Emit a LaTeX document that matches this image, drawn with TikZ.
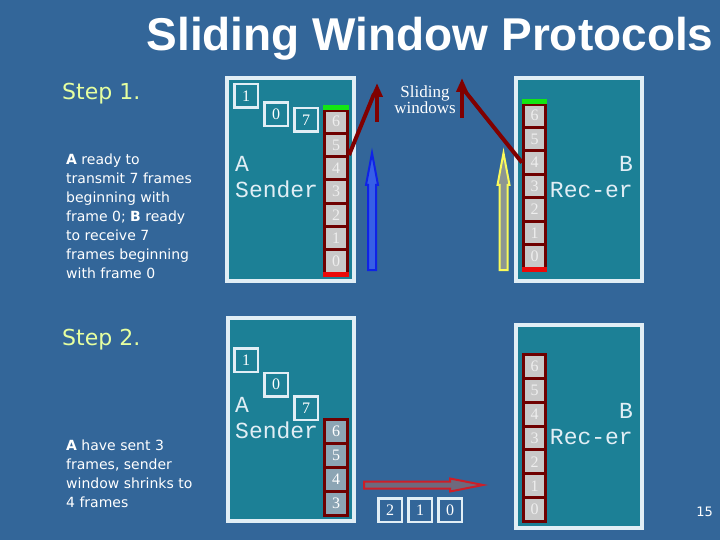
\documentclass[tikz,border=0pt]{standalone}
\usepackage{fontspec}
\setmainfont{Liberation Serif}
\newfontfamily\headfont{Liberation Sans}
\newfontfamily\stepfont{DejaVu Sans}
\newfontfamily\codefont{Liberation Mono}
\usetikzlibrary{arrows.meta}
\definecolor{bgblue}{RGB}{51,102,153}
\definecolor{panelteal}{RGB}{28,128,150}
\definecolor{paneledge}{RGB}{225,238,245}
\definecolor{celledge}{RGB}{110,0,0}
\definecolor{cellgray}{RGB}{200,200,200}
\definecolor{celltext}{RGB}{238,238,238}
\definecolor{cellblue}{RGB}{140,165,180}
\definecolor{winred}{RGB}{128,0,0}
\definecolor{stepyellow}{RGB}{230,255,160}
\definecolor{arrowblue}{RGB}{15,35,230}
\definecolor{arrowbluefill}{RGB}{55,95,230}
\definecolor{arrowyellow}{RGB}{250,250,90}
\definecolor{arrowgray}{RGB}{140,150,145}
\definecolor{arrowred}{RGB}{205,30,40}
\definecolor{arrowredfill}{RGB}{110,105,125}
\definecolor{topgreen}{RGB}{20,230,20}
\definecolor{botred}{RGB}{235,10,10}
\begin{document}
\begin{tikzpicture}[x=1pt, y=-1pt,
  panel/.style={draw=paneledge, fill=panelteal, line width=4pt},
  cell/.style={draw=celledge, line width=3pt, fill=cellgray, text=celltext,
    inner sep=0pt, minimum width=23pt, font=\fontsize{16}{16}\selectfont},
  numbox/.style={draw=paneledge, line width=2.5pt, minimum size=23.5pt,
    inner sep=0pt, text=white, font=\fontsize{16}{16}\selectfont},
  code/.style={text=paneledge, inner sep=0pt, font=\codefont\fontsize{23}{23}\selectfont},
  steplabel/.style={text=stepyellow, inner sep=0pt, anchor=base west,
    font=\stepfont\fontsize{22}{22}\selectfont},
  stepnote/.style={text=white, inner sep=0pt, anchor=north west, align=left,
    font=\stepfont\fontsize{14}{19}\selectfont},
  winline/.style={winred, line width=4pt},
  winarrow/.style={winred, line width=4pt, -{Triangle[width=11pt,length=14pt]}},
  hollow/.style={line width=2pt, line join=miter}]

  \fill[bgblue] (0,0) rectangle (720,540);
  \useasboundingbox (0,0) rectangle (720,540);

  \node[text=white, inner sep=0pt, anchor=base, font=\headfont\bfseries\fontsize{46}{46}\selectfont]
    (title) at (430,51) {Sliding Window Protocols};

  % Step 1
  \node[steplabel] (step1) at (62,100) {Step 1.};
  \node[stepnote] (note1) at (66,153.4) {\textbf{A} ready to\\ transmit 7 frames\\ beginning with\\
    frame 0; \textbf{B} ready\\ to receive 7\\ frames beginning\\ with frame 0};

  \draw[panel] (227,78) rectangle (354,281);
  \draw[panel] (516,78) rectangle (642,281);

  \node[numbox] (sa1) at (246,96) {1};
  \node[numbox] (sa0) at (276,114.5) {0};
  \node[numbox] (sa7) at (306,120) {7};
  \node[code, anchor=base west] (aname) at (235,172) {A};
  \node[code, anchor=base west] (asend) at (235,198) {Sender};

  \foreach \i in {0,...,6}
    \node[cell, minimum height=23.29pt] (s\i) at (336,{261.4-23.29*\i}) {\i};
  \fill[topgreen] (323,105) rectangle (349,110.5);
  \fill[botred] (323,272) rectangle (349,277);

  \node[code, anchor=base east] (bname) at (633,172) {B};
  \node[code, anchor=base east] (brec) at (633,198) {Rec-er};

  \foreach \i in {0,...,6}
    \node[cell, minimum width=22pt, minimum height=23.43pt] (r\i) at (534.5,{256.3-23.43*\i}) {\i};
  \fill[topgreen] (522,99) rectangle (547,104.5);
  \fill[botred] (522,267) rectangle (547,272);

  \node[text=white, inner sep=0pt, anchor=north, align=center, font=\fontsize{17}{16}\selectfont]
    (slide) at (425,86) {Sliding\\ windows};

  \coordinate (wa) at (377,83);
  \coordinate (wa0) at (377,122);
  \coordinate (wa1) at (374,94);
  \draw[winarrow] (wa0) -- (wa);
  \draw[winline] (s4.north east) -- (wa1);
  \coordinate (wb) at (462,78);
  \coordinate (wb0) at (462,118);
  \coordinate (wb1) at (464,90);
  \draw[winarrow] (wb0) -- (wb);
  \draw[winline] (r4.west) -- (wb1);

  \coordinate (blueb) at (372,270);
  \draw[hollow, draw=arrowblue, fill=arrowbluefill] (blueb) ++(-4,0) -- ++(0,-85) -- ++(-2,0)
    -- ++(6,-32) -- ++(6,32) -- ++(-2,0) -- ++(0,85) -- cycle;
  \coordinate (yellowb) at (503.5,270);
  \draw[hollow, draw=arrowyellow, fill=arrowgray] (yellowb) ++(-4,0) -- ++(0,-85) -- ++(-2,0)
    -- ++(6,-32) -- ++(6,32) -- ++(-2,0) -- ++(0,85) -- cycle;

  % Step 2
  \node[steplabel] (step2) at (62,345) {Step 2.};
  \node[stepnote] (note2) at (66,439.4) {\textbf{A} have sent 3\\ frames, sender\\
    window shrinks to\\ 4 frames};

  \draw[panel] (228,318) rectangle (354,521);
  \draw[panel] (516,325) rectangle (642,528);

  \node[numbox] (sb1) at (246,360) {1};
  \node[numbox] (sb0) at (276,384.5) {0};
  \node[numbox] (sb7) at (306,408) {7};
  \node[code, anchor=base west] (aname2) at (235,412) {A};
  \node[code, anchor=base west] (asend2) at (235,438) {Sender};

  \foreach \i in {3,...,6}
    \node[cell, fill=cellblue, text=white, minimum height=24pt] (t\i) at (336,{575.5-24*\i}) {\i};

  \coordinate (redb) at (364,485);
  \draw[hollow, draw=arrowred, fill=arrowredfill] (redb) ++(0,-3.5) -- ++(86,0) -- ++(0,-3)
    -- ++(33,6.5) -- ++(-33,6.5) -- ++(0,-3) -- ++(-86,0) -- cycle;

  \node[numbox] (sent2) at (390,510) {2};
  \node[numbox] (sent1) at (420,510) {1};
  \node[numbox] (sent0) at (450,510) {0};

  \foreach \i in {0,...,6}
    \node[cell, minimum width=22pt, minimum height=23.86pt] (q\i) at (534.5,{509.6-23.86*\i}) {\i};
  \node[code, anchor=base east] (bname2) at (633,418) {B};
  \node[code, anchor=base east] (brec2) at (633,444) {Rec-er};

  \node[text=white, inner sep=0pt, anchor=base east, font=\stepfont\fontsize{13}{13}\selectfont]
    (page) at (713,516) {15};
\end{tikzpicture}
\end{document}
